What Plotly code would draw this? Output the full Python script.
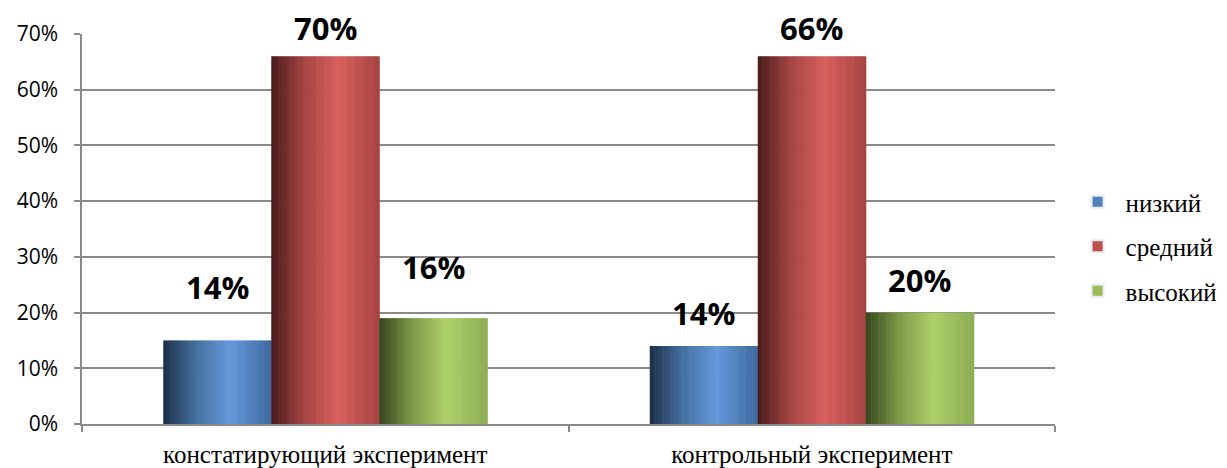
import plotly.graph_objects as go

categories = ["констатирующий эксперимент", "контрольный эксперимент"]
series_names = ["низкий", "средний", "высокий"]
low_values = [0.15, 0.14]
mid_values = [0.66, 0.66]
high_values = [0.19, 0.20]
low_labels = ["14%", "14%"]
mid_labels = ["70%", "66%"]
high_labels = ["16%", "20%"]
y_ticks = [0, 0.1, 0.2, 0.3, 0.4, 0.5, 0.6, 0.7]

series_values = [low_values, mid_values, high_values]
series_labels = [low_labels, mid_labels, high_labels]

# styling
legend_colors = ["#4F81BD", "#C0504D", "#9BBB59"]
gradients = [
    [(0.0, "#1C2E48"), (0.3, "#44709F"), (0.62, "#6499DB"), (1.0, "#3E6A9E")],
    [(0.0, "#4A1B1C"), (0.3, "#A44442"), (0.62, "#D9605D"), (1.0, "#A64442")],
    [(0.0, "#37461F"), (0.3, "#7C9946"), (0.62, "#AED06B"), (1.0, "#8DAD53")],
]
label_shift = [[53, 33], [28, 28], [51, 33]]
serif = "'Times New Roman', 'Liberation Serif', 'DejaVu Serif', serif"
sans = "'Open Sans', 'DejaVu Sans', sans-serif"

bar_w = 0.222
offsets = [-0.333, -0.111, 0.111]
n_strips = 40


def hex2rgb(h):
    h = h.lstrip("#")
    return tuple(int(h[i:i + 2], 16) for i in (0, 2, 4))


def interp(stops, t):
    for (t0, c0), (t1, c1) in zip(stops[:-1], stops[1:]):
        if t0 <= t <= t1:
            a = (t - t0) / (t1 - t0) if t1 > t0 else 0
            r0, g0, b0 = hex2rgb(c0)
            r1, g1, b1 = hex2rgb(c1)
            return "rgb(%d,%d,%d)" % (r0 + (r1 - r0) * a, g0 + (g1 - g0) * a, b0 + (b1 - b0) * a)
    return stops[-1][1]


fig = go.Figure()
xidx = list(range(len(categories)))
sw = bar_w / n_strips
for s, name in enumerate(series_names):
    for i in range(n_strips):
        t = (i + 0.5) / n_strips
        fig.add_trace(go.Bar(
            x=categories, y=series_values[s],
            width=[sw * 1.2] * len(categories),
            offset=[offsets[s] + i * sw] * len(categories),
            marker=dict(color=interp(gradients[s], t), line=dict(width=0)),
            showlegend=False, hoverinfo="skip",
        ))
    # legend entry
    fig.add_trace(go.Bar(
        x=categories, y=[None] * len(categories), name=name,
        marker=dict(color=legend_colors[s]), legendgroup=name, showlegend=True,
    ))
    for c in xidx:
        fig.add_annotation(
            x=c + offsets[s] + bar_w / 2, y=series_values[s][c],
            text="<b>%s</b>" % series_labels[s][c], showarrow=False,
            yanchor="middle", yshift=label_shift[s][c],
            font=dict(family=sans, size=31, color="#000"),
        )

fig.update_layout(
    width=1219, height=460,
    margin=dict(l=74, r=172, t=26, b=44, autoexpand=False),
    paper_bgcolor="white", plot_bgcolor="white",
    barmode="overlay",
    showlegend=True,
    legend=dict(x=1.015, y=0.455, yanchor="middle", xanchor="left",
                font=dict(family=serif, size=25, color="#000"),
                tracegroupgap=9, itemsizing="constant", itemwidth=46),
    xaxis=dict(type="category", showline=True, linecolor="#8a8a8a", linewidth=1.5,
               ticks="outside", tickson="boundaries", ticklen=6, tickcolor="#8a8a8a",
               tickwidth=1.5, automargin=False, ticklabelstandoff=7,
               tickfont=dict(family=serif, size=25, color="#000"),
               showgrid=False),
    yaxis=dict(range=[0, 0.7], tickvals=y_ticks, tickformat=".0%",
               showline=True, linecolor="#8a8a8a", linewidth=1.5,
               ticks="outside", ticklen=6, tickcolor="#8a8a8a", tickwidth=1.5,
               ticklabelstandoff=12, automargin=False,
               showgrid=True, gridcolor="#8a8a8a", gridwidth=1.5, zeroline=False,
               tickfont=dict(family=sans, size=21, color="#000")),
)

fig.write_html("out.html")
